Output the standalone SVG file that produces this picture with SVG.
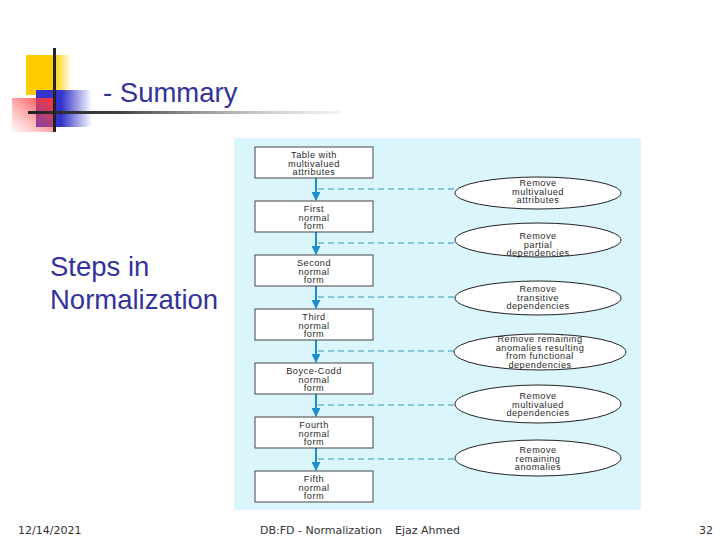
<svg xmlns="http://www.w3.org/2000/svg" width="720" height="540" viewBox="0 0 720 540">
<style>
.title{font-family:"Liberation Sans",Arial,sans-serif;fill:#333399}
.foot{font-family:"DejaVu Sans","Liberation Sans",sans-serif;font-size:11px;fill:#333}
.bx{fill:#fff;stroke:#444;stroke-width:1}
.el{fill:#fff;stroke:#222;stroke-width:1}
.t{font-family:"Liberation Sans",Arial,sans-serif;font-size:9.2px;letter-spacing:0.5px;fill:#2a2a2a;text-anchor:middle}
.arr{stroke:#1b8fcb;stroke-width:2;fill:none}
.dash{stroke:#2f93b8;stroke-width:1.2;stroke-dasharray:6 4;fill:none}
</style>
<defs>
<linearGradient id="gy" x1="0" y1="0" x2="1" y2="0"><stop offset="0" stop-color="#ffcc00"/><stop offset="0.6" stop-color="#ffcc00"/><stop offset="1" stop-color="#ffcc00" stop-opacity="0"/></linearGradient>
<linearGradient id="gb" x1="0" y1="0" x2="1" y2="0"><stop offset="0" stop-color="#3333cc"/><stop offset="0.45" stop-color="#3333cc"/><stop offset="1" stop-color="#3333cc" stop-opacity="0"/></linearGradient>
<linearGradient id="gr" x1="1" y1="0" x2="0" y2="1"><stop offset="0" stop-color="#ff3333"/><stop offset="1" stop-color="#ff6666" stop-opacity="0.05"/></linearGradient>
<linearGradient id="gl" x1="0" y1="0" x2="1" y2="0"><stop offset="0" stop-color="#222"/><stop offset="0.3" stop-color="#444"/><stop offset="1" stop-color="#bbb" stop-opacity="0.2"/></linearGradient>
<marker id="ah" viewBox="0 0 10 10" refX="9" refY="5" markerWidth="4.5" markerHeight="4.5" orient="auto"><path d="M0,0 L10,5 L0,10 z" fill="#1b8fcb"/></marker>
</defs>
<rect width="720" height="540" fill="#fff"/>
<g id="decor">
<rect x="26" y="55" width="46" height="40" fill="url(#gy)"/>
<rect x="36" y="90" width="56" height="37" fill="url(#gb)"/>
<rect x="12" y="98" width="43" height="34" fill="url(#gr)"/>
<rect x="28" y="111" width="312" height="3" fill="url(#gl)"/>
<rect x="53" y="48" width="3" height="84" fill="#222"/>
</g>
<text class="title" x="103" y="102" font-size="27.5">- Summary</text>
<text class="title" x="50" y="276" font-size="27.5">Steps in</text>
<text class="title" x="50" y="309" font-size="27.5">Normalization</text>
<rect x="234" y="138" width="407" height="372" fill="#dbf5fc"/>
<g id="connectors">
<line class="arr" x1="316" y1="178" x2="316" y2="200" marker-end="url(#ah)"/>
<line class="arr" x1="316" y1="232" x2="316" y2="254" marker-end="url(#ah)"/>
<line class="arr" x1="316" y1="286" x2="316" y2="308" marker-end="url(#ah)"/>
<line class="arr" x1="316" y1="340" x2="316" y2="362" marker-end="url(#ah)"/>
<line class="arr" x1="316" y1="394" x2="316" y2="416" marker-end="url(#ah)"/>
<line class="arr" x1="316" y1="448" x2="316" y2="470" marker-end="url(#ah)"/>
<line class="dash" x1="318" y1="189" x2="455" y2="189"/>
<line class="dash" x1="318" y1="243" x2="455" y2="243"/>
<line class="dash" x1="318" y1="297" x2="455" y2="297"/>
<line class="dash" x1="318" y1="351" x2="455" y2="351"/>
<line class="dash" x1="318" y1="405" x2="455" y2="405"/>
<line class="dash" x1="318" y1="459" x2="455" y2="459"/>
</g>
<g id="box1"><rect class="bx" x="255" y="147" width="118" height="31"/><text class="t" x="314" y="158">Table with</text><text class="t" x="314" y="166.5">multivalued</text><text class="t" x="314" y="175">attributes</text></g>
<g id="box2"><rect class="bx" x="255" y="201" width="118" height="31"/><text class="t" x="314" y="212">First</text><text class="t" x="314" y="220.5">normal</text><text class="t" x="314" y="229">form</text></g>
<g id="box3"><rect class="bx" x="255" y="255" width="118" height="31"/><text class="t" x="314" y="266">Second</text><text class="t" x="314" y="274.5">normal</text><text class="t" x="314" y="283">form</text></g>
<g id="box4"><rect class="bx" x="255" y="309" width="118" height="31"/><text class="t" x="314" y="320">Third</text><text class="t" x="314" y="328.5">normal</text><text class="t" x="314" y="337">form</text></g>
<g id="box5"><rect class="bx" x="255" y="363" width="118" height="31"/><text class="t" x="314" y="374">Boyce-Codd</text><text class="t" x="314" y="382.5">normal</text><text class="t" x="314" y="391">form</text></g>
<g id="box6"><rect class="bx" x="255" y="417" width="118" height="31"/><text class="t" x="314" y="428">Fourth</text><text class="t" x="314" y="436.5">normal</text><text class="t" x="314" y="445">form</text></g>
<g id="box7"><rect class="bx" x="255" y="471" width="118" height="31"/><text class="t" x="314" y="482">Fifth</text><text class="t" x="314" y="490.5">normal</text><text class="t" x="314" y="499">form</text></g>
<g id="ell1"><ellipse class="el" cx="538" cy="193" rx="83" ry="16"/><text class="t" x="538" y="186">Remove</text><text class="t" x="538" y="194.5">multivalued</text><text class="t" x="538" y="203">attributes</text></g>
<g id="ell2"><ellipse class="el" cx="538" cy="240" rx="83" ry="17"/><text class="t" x="538" y="239">Remove</text><text class="t" x="538" y="247.5">partial</text><text class="t" x="538" y="256">dependencies</text></g>
<g id="ell3"><ellipse class="el" cx="538" cy="298" rx="83" ry="17"/><text class="t" x="538" y="292">Remove</text><text class="t" x="538" y="300.5">transitive</text><text class="t" x="538" y="309">dependencies</text></g>
<g id="ell4"><ellipse class="el" cx="540" cy="352" rx="86" ry="18"/><text class="t" x="540" y="342">Remove remaining</text><text class="t" x="540" y="350.5">anomalies resulting</text><text class="t" x="540" y="359">from functional</text><text class="t" x="540" y="367.5">dependencies</text></g>
<g id="ell5"><ellipse class="el" cx="538" cy="404" rx="83" ry="19"/><text class="t" x="538" y="399">Remove</text><text class="t" x="538" y="407.5">multivalued</text><text class="t" x="538" y="416">dependencies</text></g>
<g id="ell6"><ellipse class="el" cx="538" cy="458" rx="83" ry="18"/><text class="t" x="538" y="453">Remove</text><text class="t" x="538" y="461.5">remaining</text><text class="t" x="538" y="470">anomalies</text></g>
<g id="footer">
<text class="foot" x="18" y="534">12/14/2021</text>
<text class="foot" x="260" y="534">DB:FD - Normalization</text>
<text class="foot" x="395" y="534">Ejaz Ahmed</text>
<text class="foot" x="699" y="534">32</text>
</g>
</svg>
